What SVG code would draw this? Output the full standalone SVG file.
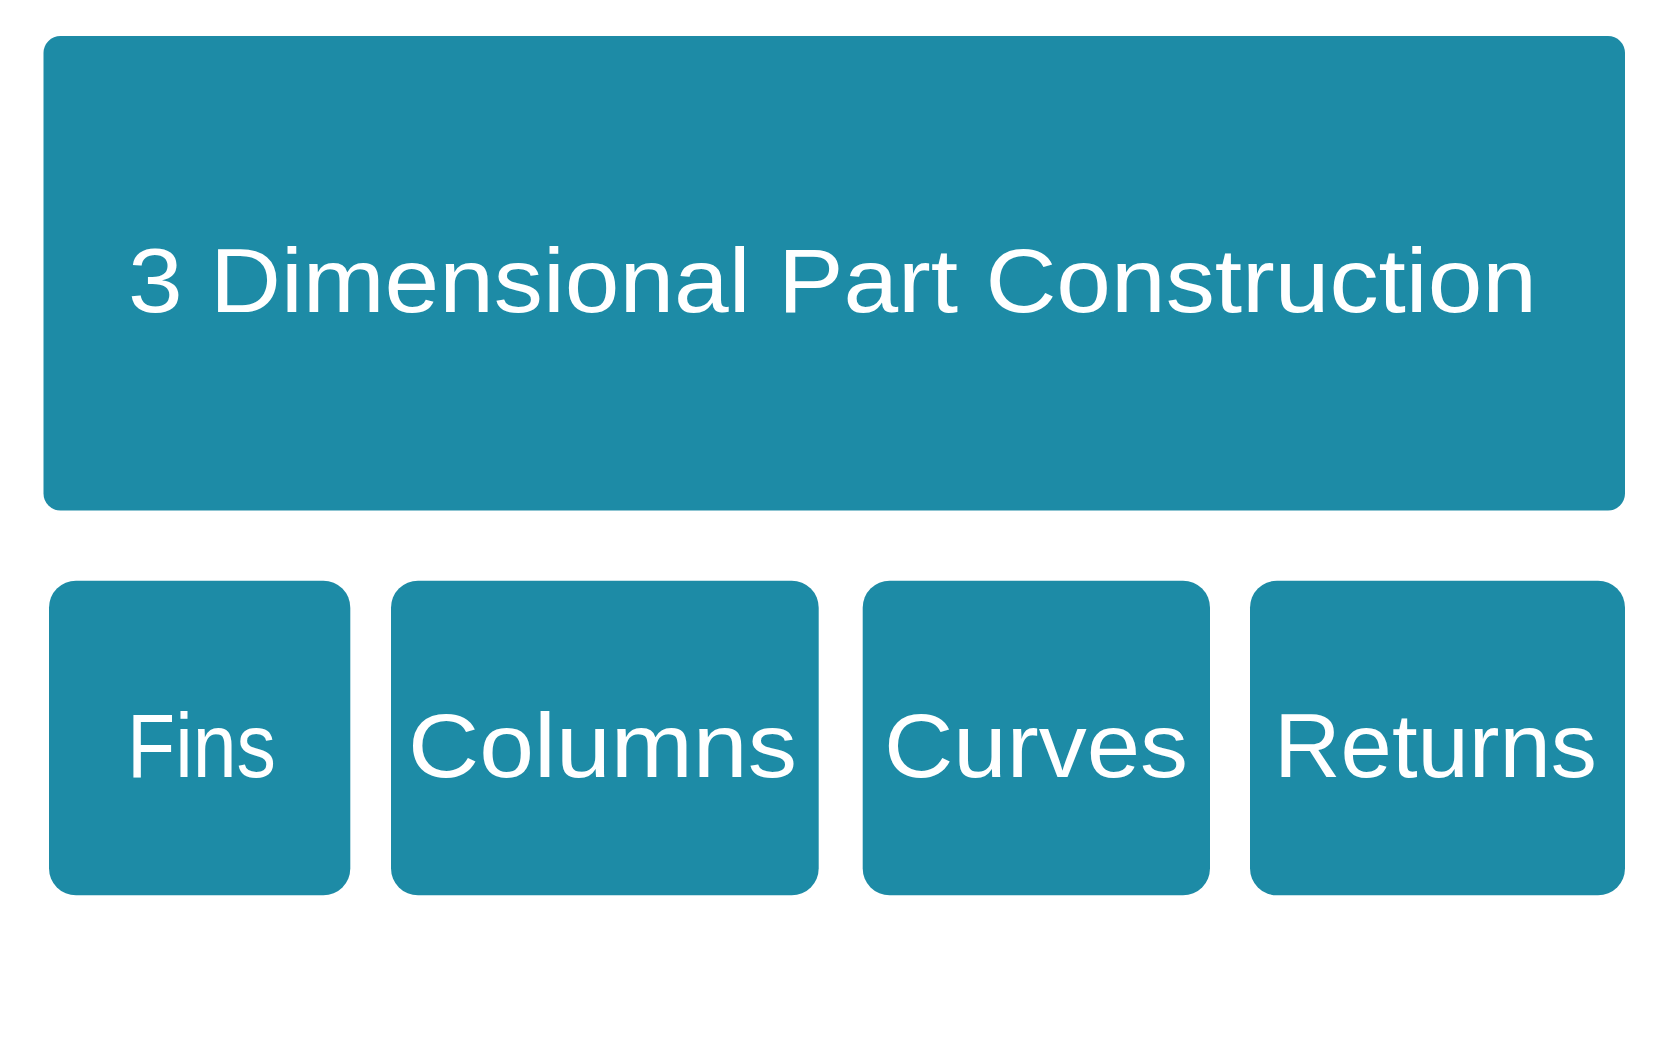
<svg xmlns="http://www.w3.org/2000/svg" width="1668" height="1058" viewBox="0 0 1668 1058">
<style>
.box{fill:#1D8BA6}
.lbl{fill:#FFFFFF;font-family:"Liberation Sans",Arial,sans-serif;font-size:91px}
</style>
<rect x="0" y="0" width="1668" height="1058" fill="#FFFFFF"/>
<g id="connectors"></g>
<g id="node-title">
<rect class="box" x="43.5" y="36" width="1581.5" height="474.5" rx="17" ry="17"/>
<text class="lbl" x="128" y="311.5" textLength="1409" lengthAdjust="spacingAndGlyphs">3 Dimensional Part Construction</text>
</g>
<g id="node-fins">
<rect class="box" x="49" y="580.7" width="301.3" height="314.6" rx="27" ry="27"/>
<text class="lbl" x="127" y="777" textLength="149" lengthAdjust="spacingAndGlyphs">Fins</text>
</g>
<g id="node-columns">
<rect class="box" x="391" y="580.7" width="427.7" height="314.6" rx="27" ry="27"/>
<text class="lbl" x="408" y="777" textLength="389" lengthAdjust="spacingAndGlyphs">Columns</text>
</g>
<g id="node-curves">
<rect class="box" x="862.7" y="580.7" width="347.3" height="314.6" rx="27" ry="27"/>
<text class="lbl" x="884" y="777" textLength="304" lengthAdjust="spacingAndGlyphs">Curves</text>
</g>
<g id="node-returns">
<rect class="box" x="1250" y="580.7" width="375" height="314.6" rx="27" ry="27"/>
<text class="lbl" x="1274" y="777" textLength="323" lengthAdjust="spacingAndGlyphs">Returns</text>
</g>
</svg>
